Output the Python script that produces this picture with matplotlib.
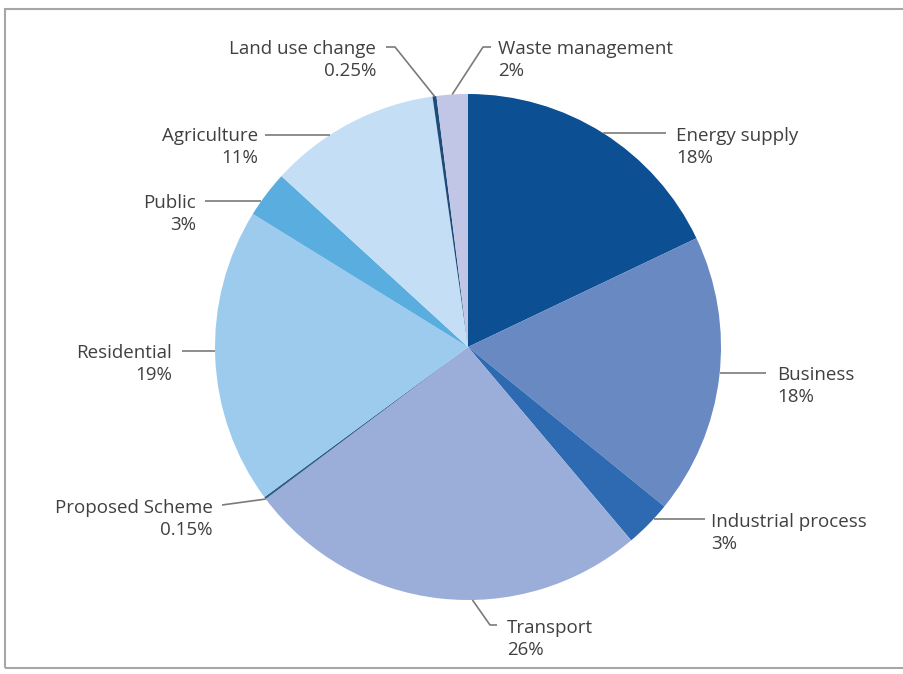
import numpy as np
import matplotlib.pyplot as plt
from matplotlib.patches import Rectangle

# emissions share by sector (%), clockwise from 12 o'clock
sectors = ["Energy supply", "Business", "Industrial process", "Transport",
           "Proposed Scheme", "Residential", "Public", "Agriculture",
           "Land use change", "Waste management"]
shares = [18, 18, 3, 26, 0.15, 19, 3, 11, 0.25, 2]
colours = ["#0c4f93", "#6889c2", "#2d6ab2", "#9aaed9", "#2b5d8e",
           "#9dcbee", "#5aaddf", "#c3def5", "#1e4c7a", "#c2c6e6"]

W, H = 904, 674
CX, CY, R = 468, 347, 253          # pie centre / radius in pixels (y down)

# label layout: text x, baseline y, alignment, leader y, leader start x, elbow x,
# and where along the wedge arc a bent leader lands (None = straight across)
layout = [
    (676, 141, "left", 133, 666, 666, None),
    (777, 380, "left", 373, 766, 766, None),
    (711, 527, "left", 519, 705, 705, None),
    (507, 633, "left", 625, 497, 490, 0.58),
    (213, 513, "right", 505, 222, 222, None),
    (172, 358, "right", 351, 182, 182, None),
    (196, 208, "right", 201, 205, 205, None),
    (258, 141, "right", 135, 265, 265, None),
    (376, 54, "right", 47, 386, 395, 0.5),
    (498, 54, "left", 47, 491, 483, 0.5),
]


def fy(y):
    return H - y


fig = plt.figure(figsize=(W / 100, H / 100), dpi=100)
ax = fig.add_axes([0, 0, 1, 1])

wedges, _ = ax.pie(shares, colors=colours, startangle=90, counterclock=False,
                   radius=R, center=(CX, fy(CY)),
                   wedgeprops=dict(linewidth=0))

ax.set_xlim(0, W)
ax.set_ylim(0, H)
ax.set_aspect("equal")
ax.axis("off")

# outer frame
ax.add_patch(Rectangle((5, fy(668)), W + 10, 668 - 9, fill=False,
                       edgecolor="#a6a6a6", linewidth=1.5, clip_on=False))

txt_kw = dict(fontsize=13.5, color="#404040", family="Open Sans")

for w, name, val, (tx, ty, ha, ly, lx0, ex, frac) in zip(wedges, sectors, shares, layout):
    # where the leader meets the rim
    t1, t2 = w.theta1, w.theta2
    if frac is None:
        a = np.degrees(np.arcsin((CY - ly) / R))
        if lx0 < CX:
            a = 180 - a
        a = t1 + ((a - t1) % 360)
        if a > t2:
            a = t2 if (a - t2) < (t1 + 360 - a) else t1
    else:
        a = t1 + frac * (t2 - t1)
    px = CX + R * np.cos(np.radians(a))
    py = CY - R * np.sin(np.radians(a))

    ax.plot([lx0, ex, px], [fy(ly), fy(ly), fy(py)], color="#7a7a7a",
            linewidth=1.2, solid_capstyle="butt")

    ax.text(tx, fy(ty), name, ha=ha, va="baseline", **txt_kw)
    ax.text(tx, fy(ty + 22), f"{val:g}%", ha=ha, va="baseline", **txt_kw)

fig.savefig("out.png", dpi=100)
